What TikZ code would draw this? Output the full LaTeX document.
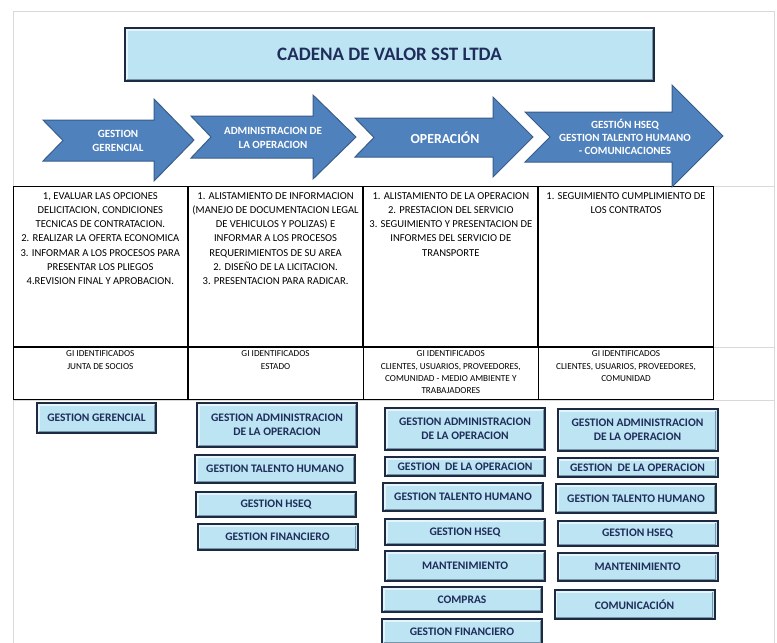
\documentclass[tikz,border=0pt]{standalone}
\usepackage{fontspec}
\setmainfont{Carlito}
\usetikzlibrary{matrix}

\definecolor{arrowblue}{RGB}{79,129,189}
\definecolor{arrowline}{RGB}{56,93,138}
\definecolor{boxfill}{RGB}{188,228,242}
\definecolor{boxline}{RGB}{28,42,66}
\definecolor{boxhigh}{RGB}{228,244,250}
\definecolor{boxshade}{RGB}{120,150,170}
\definecolor{boxtext}{RGB}{31,45,90}
\definecolor{gridgray}{RGB}{217,217,217}

\newcommand{\tasktxt}[1]{\parbox[t][148pt][t]{174.25pt}{\centering #1}}
\newcommand{\gitxt}[1]{\parbox[t][44.4pt][t]{174.65pt}{\centering #1}}

\begin{document}
\begin{tikzpicture}[
        x=1pt, y=-1pt,
        gridline/.style={draw=gridgray, line width=0.8pt},
        stage/.style={draw=arrowline, line width=1pt, fill=arrowblue},
        stagetext/.style={text=white, align=center, font=\bfseries\fontsize{11}{14}\selectfont},
        bevel/.style={
          path picture={
            \draw[boxhigh, line width=1.4pt]
              ([xshift=1.8pt, yshift=1.8pt]path picture bounding box.south west)
              -- ([xshift=1.8pt, yshift=-1.8pt]path picture bounding box.north west)
              -- ([xshift=-1.8pt, yshift=-1.8pt]path picture bounding box.north east);
            \draw[boxshade, line width=1.4pt]
              ([xshift=-1.8pt, yshift=-1.8pt]path picture bounding box.north east)
              -- ([xshift=-1.8pt, yshift=1.8pt]path picture bounding box.south east)
              -- ([xshift=1.8pt, yshift=1.8pt]path picture bounding box.south west);
            }
          },
        headbox/.style={
          bevel,
          draw=boxline,
          line width=2pt,
          fill=boxfill,
          text=boxtext,
          inner sep=0pt,
          minimum width=529pt,
          minimum height=53pt,
          font=\bfseries\fontsize{19}{22}\selectfont
          },
        proc/.style={
          bevel,
          draw=boxline,
          line width=2pt,
          fill=boxfill,
          text=boxtext,
          align=center,
          inner sep=0pt,
          minimum width=160pt,
          font=\bfseries\fontsize{11.5}{14}\selectfont
          },
        valtable/.style={
          matrix of nodes,
          nodes={
            draw,
            anchor=north,
            line width=1pt,
            inner xsep=0pt,
            inner ysep=6pt,
            font=\fontsize{10.6}{14.3}\selectfont
            },
          row 2/.style={nodes={line width=0.6pt, inner ysep=4pt, font=\fontsize{9.2}{12.3}\selectfont}},
          column sep=0pt,
          row sep=0pt,
          inner sep=0pt
          }
        ]
        \useasboundingbox (0,0) rectangle (777,643);
        \clip (0,0) rectangle (777,643);
        % sheet grid
        \draw[gridline] (13,643) -- (13,11) -- (774,11) -- (774,643);
        \foreach \gy in {186,347,400}
          \draw[gridline] (714,\gy) -- (774,\gy);
        \draw[gridline] (13,400) -- (714,400);
        % title
        \node[headbox] (head) at (389.5,54.5) {CADENA DE VALOR SST LTDA};
        % activities and stakeholders
        \matrix[valtable, anchor=north west] (tab) at (12.5,185.5)
        {
        \tasktxt{1, EVALUAR LAS OPCIONES\\ DELICITACION, CONDICIONES\\ TECNICAS DE CONTRATACION.\\ 2. REALIZAR LA OFERTA ECONOMICA\\ 3. INFORMAR A LOS PROCESOS PARA\\ PRESENTAR LOS PLIEGOS\\ 4.REVISION FINAL Y APROBACION.}
        & \tasktxt{1. ALISTAMIENTO DE INFORMACION\\ (MANEJO DE DOCUMENTACION LEGAL\\ DE VEHICULOS Y POLIZAS) E\\ INFORMAR A LOS PROCESOS\\ REQUERIMIENTOS DE SU AREA\\ 2. DISEÑO DE LA LICITACION.\\ 3. PRESENTACION PARA RADICAR.}
        & \tasktxt{1. ALISTAMIENTO DE LA OPERACION\\ 2. PRESTACION DEL SERVICIO\\ 3. SEGUIMIENTO Y PRESENTACION DE\\ INFORMES DEL SERVICIO DE\\ TRANSPORTE}
        & \tasktxt{1. SEGUIMIENTO CUMPLIMIENTO DE\\ LOS CONTRATOS} \\
        \gitxt{GI IDENTIFICADOS\\ JUNTA DE SOCIOS}
        & \gitxt{GI IDENTIFICADOS\\ ESTADO}
        & \gitxt{GI IDENTIFICADOS\\ CLIENTES, USUARIOS, PROVEEDORES,\\ COMUNIDAD - MEDIO AMBIENTE Y\\ TRABAJADORES}
        & \gitxt{GI IDENTIFICADOS\\ CLIENTES, USUARIOS, PROVEEDORES,\\ COMUNIDAD} \\
        };
        % value chain arrows
        \foreach \xl/\xn/\xh/\xt/\yt/\yb/\ht/\hb in {43/63/154/194/120/161/99/181,
            191/211/313/356/116/158/95/179,
            355/374/493/533/118/157/97/177,
            525/550/672/723/112/162/85/187}
          \draw[stage] (\xl,\yt) -- (\xh,\yt) -- (\xh,\ht) -- (\xt,{(\ht+\hb)/2})
            -- (\xh,\hb) -- (\xh,\yb) -- (\xl,\yb) -- (\xn,{(\yt+\yb)/2}) -- cycle;
        \node[stagetext] (st1) at (118,140.5) {GESTION\\GERENCIAL};
        \node[stagetext] (st2) at (273,138) {ADMINISTRACION DE\\LA OPERACION};
        \node[stagetext, font=\bfseries\fontsize{13.8}{16}\selectfont] (st3) at (445,137.5) {OPERACIÓN};
        \node[stagetext, font=\bfseries\fontsize{11}{13}\selectfont] (st4) at (625,137) {GESTIÓN HSEQ\\GESTION TALENTO HUMANO\\- COMUNICACIONES};
        % processes per stage
        \node[proc, minimum width=119pt, minimum height=30pt] (gg1) at (96.5,418) {GESTION GERENCIAL};
        \node[proc, minimum height=44pt] (ga2) at (277,425) {GESTION ADMINISTRACION\\DE LA OPERACION};
        \node[proc, minimum height=28pt] (gt2) at (275,469) {GESTION TALENTO HUMANO};
        \node[proc, minimum height=25pt] (gh2) at (276,504.5) {GESTION HSEQ};
        \node[proc, minimum height=26pt] (gf2) at (277.5,537) {GESTION FINANCIERO};
        \node[proc, minimum height=42pt] (ga3) at (465,429) {GESTION ADMINISTRACION\\DE LA OPERACION};
        \node[proc, minimum height=19pt] (go3) at (465,466.5) {GESTION \ DE LA OPERACION};
        \node[proc, minimum height=28pt] (gt3) at (463,497) {GESTION TALENTO HUMANO};
        \node[proc, minimum height=26pt] (gh3) at (465,532) {GESTION HSEQ};
        \node[proc, minimum height=30pt] (gm3) at (465,566) {MANTENIMIENTO};
        \node[proc, minimum height=25pt] (gc3) at (462,599.5) {COMPRAS};
        \node[proc, minimum height=25pt] (gf3) at (462,631.5) {GESTION FINANCIERO};
        \node[proc, minimum height=42pt] (ga4) at (637.5,430) {GESTION ADMINISTRACION\\DE LA OPERACION};
        \node[proc, minimum height=19pt] (go4) at (637.5,467.5) {GESTION \ DE LA OPERACION};
        \node[proc, minimum height=29pt] (gt4) at (636,498.5) {GESTION TALENTO HUMANO};
        \node[proc, minimum height=25pt] (gh4) at (637.5,533.5) {GESTION HSEQ};
        \node[proc, minimum height=28pt] (gm4) at (637.5,567) {MANTENIMIENTO};
        \node[proc, minimum height=29pt] (gk4) at (634.5,604.5) {COMUNICACIÓN};
\end{tikzpicture}
\end{document}
